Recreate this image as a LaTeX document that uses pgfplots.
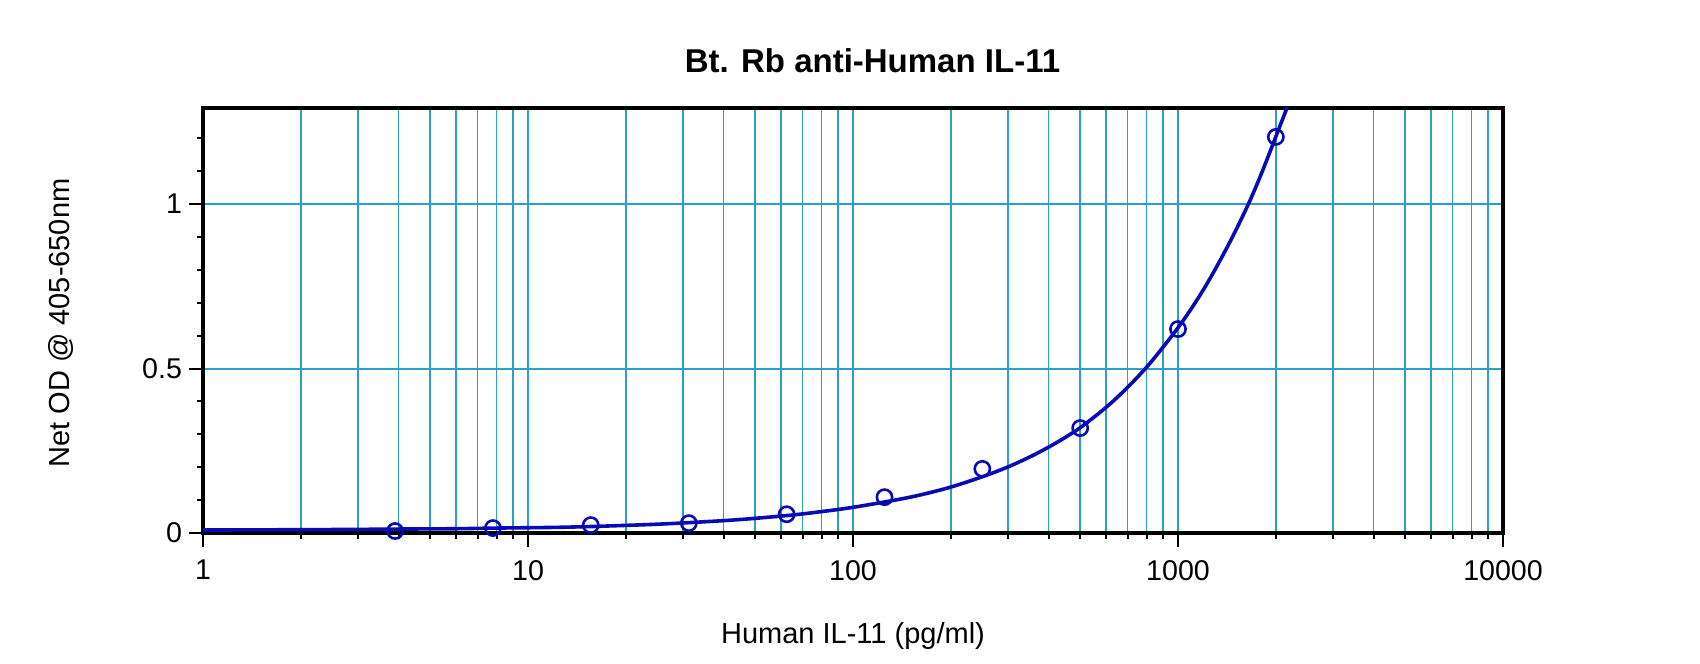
\documentclass[border=0pt]{standalone}
\usepackage{fontspec}
\setmainfont{Liberation Sans}
\usepackage{pgfplots}
\pgfplotsset{compat=1.18}
\definecolor{gridteal}{RGB}{40,160,205}
\definecolor{curveblue}{RGB}{10,10,180}
\begin{document}
\begin{tikzpicture}
\useasboundingbox (-101.5pt,-65pt) rectangle (748.5pt,266.5pt);
\begin{axis}[
    scale only axis,
    width=650pt,
    height=212.5pt,
    xmode=log,
    xmin=1, xmax=10000,
    ymin=0, ymax=1.292,
    xtick={1,10,100,1000,10000},
    xticklabels={1,10,100,1000,10000},
    ytick={0,0.5,1},
    yticklabels={0,0.5,1},
    minor ytick={0.1,0.2,0.3,0.4,0.6,0.7,0.8,0.9,1.1,1.2},
    tick pos=left,
    tick align=outside,
    major tick length=7pt,
    minor tick length=3pt,
    every tick/.style={black, line width=1pt},
    axis line style={line width=2pt},
    xmajorgrids, xminorgrids, ymajorgrids,
    grid style={gridteal, line width=1pt},
    minor grid style={gridteal, line width=0.75pt},
    /pgf/number format/assume math mode=true,
    tick label style={font=\fontsize{14.3}{16}\selectfont},
    xticklabel style={yshift=-3pt},
    title={Bt. Rb anti-Human IL-11},
    title style={font=\fontsize{16.5}{19}\selectfont\bfseries, at={(0.515,1.0824)}, anchor=center},
    xlabel={Human IL-11 (pg/ml)},
    xlabel style={font=\fontsize{14.5}{17}\selectfont, at={(0.5,-0.2424)}, anchor=center},
    ylabel={Net OD @ 405-650nm},
    ylabel style={font=\fontsize{14.5}{17}\selectfont, at={(-0.1092,0.494)}, anchor=center},
    clip=true,
]
% fitted curve
\addplot[curveblue, line width=1.8pt, smooth, no marks] coordinates {
(1,0.009) (2,0.010) (3,0.011) (4,0.012) (6,0.013) (8,0.015) (12,0.017)
(16,0.020) (24,0.026) (32,0.032) (45,0.041) (64,0.054) (80,0.065)
(100,0.078) (133,0.099) (160,0.115) (199,0.139) (250,0.171) (300,0.201)
(358,0.236) (420,0.273) (500,0.320) (604,0.384) (700,0.443) (820,0.516)
(1000,0.624) (1150,0.712) (1282,0.790) (1450,0.888) (1629,0.990)
(1750,1.060) (1876,1.134) (2000,1.205) (2163,1.292) (2250,1.340)
};
% standards
\addplot[only marks, mark=o, mark size=3.8pt, curveblue, line width=1.3pt] coordinates {
(3.9,0.006) (7.8,0.015) (15.6,0.024) (31.25,0.030) (62.5,0.057)
(125,0.109) (250,0.195) (500,0.319) (1000,0.620) (2000,1.204)
};
\end{axis}
\end{tikzpicture}
\end{document}
